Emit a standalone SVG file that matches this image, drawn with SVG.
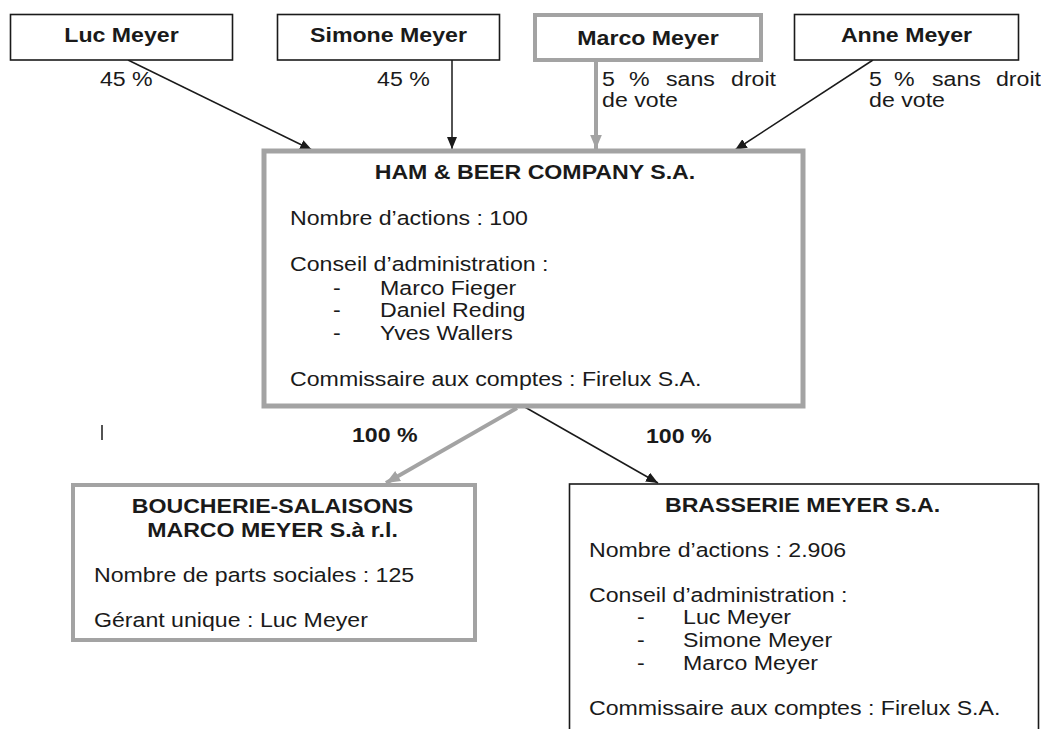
<svg xmlns="http://www.w3.org/2000/svg" width="1041" height="729" viewBox="0 0 1041 729">
<style>
text{font-family:"Liberation Sans",Arial,sans-serif;font-size:19.3px;fill:#1a1a1a}
.b{font-weight:bold}
.m{text-anchor:middle}
.bx{fill:#fff;stroke:#1a1a1a;stroke-width:1.6}
.gx{fill:#fff;stroke:#a3a3a3}
.ln{fill:none;stroke:#1a1a1a;stroke-width:1.5}
.gl{fill:none;stroke:#a3a3a3;stroke-width:4}
</style>
<defs>
<marker id="ab" viewBox="0 0 12 10" refX="12" refY="5" markerWidth="12" markerHeight="10" markerUnits="userSpaceOnUse" orient="auto"><path d="M0,0 L12,5 L0,10 z" fill="#1a1a1a"/></marker>
<marker id="ag" viewBox="0 0 12 10" refX="12" refY="5" markerWidth="14" markerHeight="12" markerUnits="userSpaceOnUse" orient="auto"><path d="M0,0 L12,5 L0,10 z" fill="#a3a3a3"/></marker>
</defs>
<rect width="1041" height="729" fill="#fff"/>
<g id="connectors">
<line class="ln" x1="128" y1="60" x2="312" y2="150" marker-end="url(#ab)"/>
<line class="ln" x1="452" y1="60" x2="452" y2="149" marker-end="url(#ab)"/>
<line class="gl" x1="596" y1="62" x2="596" y2="149" marker-end="url(#ag)"/>
<line class="ln" x1="873" y1="60" x2="735" y2="150" marker-end="url(#ab)"/>
<line class="gl" x1="517" y1="408" x2="386" y2="483" marker-end="url(#ag)"/>
<line class="ln" x1="523" y1="406" x2="658" y2="483" marker-end="url(#ab)"/>
<line class="ln" x1="102" y1="425" x2="102" y2="440"/>
</g>
<g id="luc"><rect class="bx" x="10.5" y="14.5" width="222" height="45.5"/></g>
<g id="simone"><rect class="bx" x="277.5" y="14.5" width="222" height="45.5"/></g>
<g id="marco"><rect class="gx" stroke-width="4" x="535" y="15" width="226" height="45"/></g>
<g id="anne"><rect class="bx" x="794.5" y="14.5" width="224" height="45.5"/></g>
<g id="ham"><rect class="gx" stroke-width="5" x="264" y="151" width="539" height="255"/></g>
<g id="boucherie"><rect class="gx" stroke-width="4" x="73" y="485" width="402" height="155"/></g>
<g id="brasserie"><rect class="bx" x="569.5" y="484" width="469" height="260"/></g>
<g id="texts" transform="scale(1.2,1)">
<text class="b m" x="101.25" y="42">Luc Meyer</text>
<text class="b m" x="323.75" y="42">Simone Meyer</text>
<text class="b m" x="540" y="45">Marco Meyer</text>
<text class="b m" x="755.4" y="42">Anne Meyer</text>
<text x="83.3" y="86">45 %</text>
<text x="314.2" y="86">45 %</text>
<text y="86"><tspan x="501.7">5</tspan><tspan x="524.2">%</tspan><tspan x="555">sans</tspan><tspan x="609.2">droit</tspan></text>
<text x="501.7" y="107">de vote</text>
<text y="86"><tspan x="724.2">5</tspan><tspan x="745">%</tspan><tspan x="776.7">sans</tspan><tspan x="830">droit</tspan></text>
<text x="724.2" y="107">de vote</text>
<text class="b m" x="445.8" y="179">HAM &amp; BEER COMPANY S.A.</text>
<text x="241.7" y="225">Nombre d’actions : 100</text>
<text x="241.7" y="271">Conseil d’administration :</text>
<text x="277.5" y="295">-</text><text x="316.7" y="295">Marco Fieger</text>
<text x="277.5" y="317">-</text><text x="316.7" y="317">Daniel Reding</text>
<text x="277.5" y="340">-</text><text x="316.7" y="340">Yves Wallers</text>
<text x="241.7" y="386">Commissaire aux comptes : Firelux S.A.</text>
<text class="b" x="293.3" y="442">100 %</text>
<text class="b" x="538.3" y="443">100 %</text>
<text class="b m" x="227.1" y="513">BOUCHERIE-SALAISONS</text>
<text class="b m" x="227.1" y="537">MARCO MEYER S.à r.l.</text>
<text x="78.3" y="582">Nombre de parts sociales : 125</text>
<text x="78.3" y="627">Gérant unique : Luc Meyer</text>
<text class="b m" x="668.75" y="512">BRASSERIE MEYER S.A.</text>
<text x="490.8" y="557">Nombre d’actions : 2.906</text>
<text x="490.8" y="602">Conseil d’administration :</text>
<text x="530.8" y="624">-</text><text x="569.2" y="624">Luc Meyer</text>
<text x="530.8" y="647">-</text><text x="569.2" y="647">Simone Meyer</text>
<text x="530.8" y="670">-</text><text x="569.2" y="670">Marco Meyer</text>
<text x="490.8" y="715">Commissaire aux comptes : Firelux S.A.</text>
</g>
</svg>
